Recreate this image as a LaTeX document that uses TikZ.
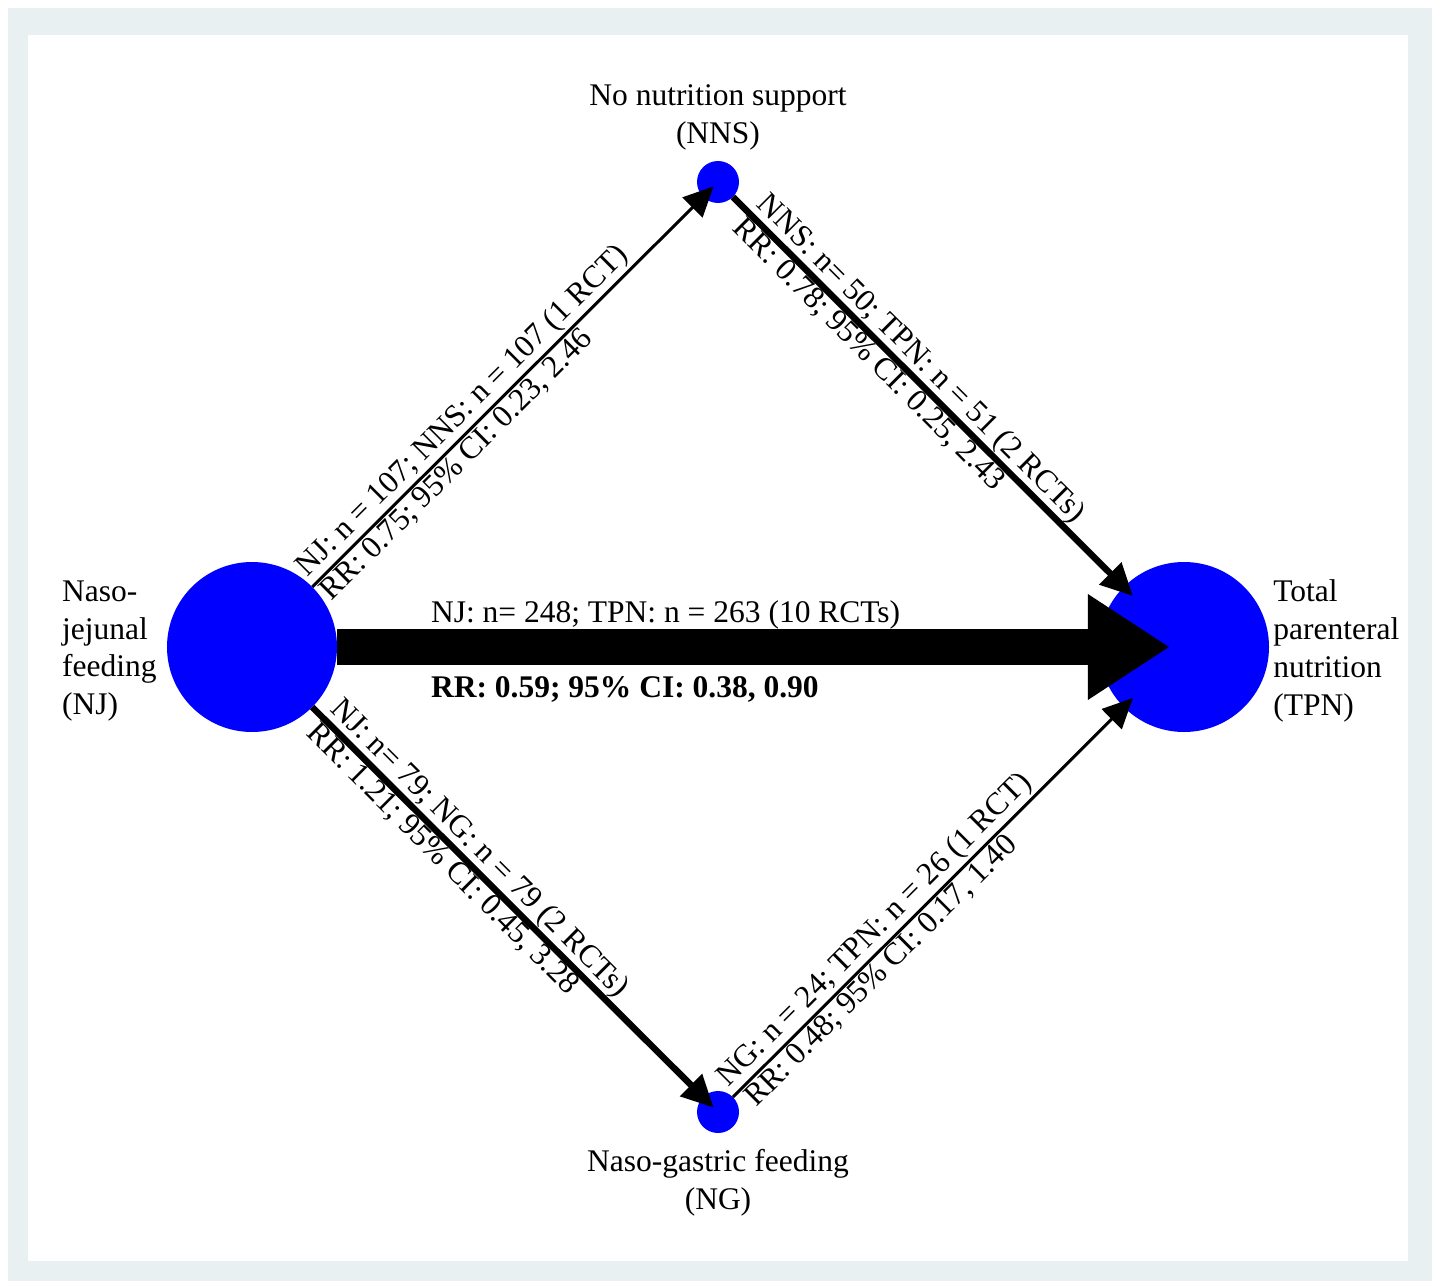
\documentclass[tikz,border=0pt]{standalone}
\usepackage{fontspec}
\setmainfont{Liberation Serif}
\usetikzlibrary{arrows.meta,positioning}
\definecolor{framecol}{RGB}{232,240,242}
\definecolor{trtblue}{RGB}{0,0,255}
\begin{document}
\begin{tikzpicture}[x=1pt,y=-1pt,
	trt/.style={circle,fill=trtblue,inner sep=0pt},
	trtname/.style={font=\fontsize{31.5}{37.9}\selectfont,inner sep=0pt},
	est/.style={font=\fontsize{31.5}{37.7}\selectfont,inner sep=3pt,sloped},
	rct1/.style={line width=3pt,-{Triangle[length=30pt,width=28pt]}},
	rct2/.style={line width=6.5pt,-{Triangle[length=32pt,width=30pt]}},
	rct10/.style={line width=36pt,-{Triangle[length=82pt,width=100pt]}}]
			\path[use as bounding box,fill=white] (0,0) rectangle (1432,1281);
			\fill[framecol] (8,8) rectangle (1432,1281);
			\fill[white] (28,35) rectangle (1408,1261);
			\node[trt,minimum size=170pt] (nj) at (252,647) {};
			\node[trt,minimum size=170pt] (tpn) at (1184,647) {};
			\node[trt,minimum size=42pt] (nns) at (718,182) {};
			\node[trt,minimum size=42pt] (ng) at (718,1112) {};
			\node[trtname,align=left,left=10pt of nj,yshift=-4pt] (njname) {Naso-\\jejunal\\feeding\\(NJ)};
			\node[trtname,align=left,right=4pt of tpn,yshift=-4pt] (tpnname) {Total\\parenteral\\nutrition\\(TPN)};
			\node[trtname,align=center,above=10pt of nns] (nnsname) {No nutrition support\\(NNS)};
			\node[trtname,align=center,below=16pt of ng] (ngname) {Naso-gastric feeding\\(NG)};
			\draw[rct1,shorten >=-15pt] (nj) -- (nns);
			\draw[rct2,shorten >=-13pt] (nns) -- (tpn);
			\draw[rct2,shorten >=-15pt] (nj) -- (ng);
			\draw[rct1,shorten >=-13pt] (ng) -- (tpn);
			\draw[rct10,shorten >=-71pt] (nj) -- (tpn);
			\path (nj) -- (nns)
				node[est,pos=0,anchor=south west] (njnnsn) {NJ: n = 107; NNS: n = 107 (1 RCT)}
				node[est,pos=0,anchor=north west] (njnnsrr) {RR: 0.75; 95\% CI: 0.23, 2.46};
			\path (nns) -- (tpn)
				node[est,pos=0.035,anchor=south west] (nnstpnn) {NNS: n= 50; TPN: n = 51 (2 RCTs)}
				node[est,pos=0.035,anchor=north west] (nnstpnrr) {RR: 0.78; 95\% CI: 0.25, 2.43};
			\path (nj) -- (ng)
				node[est,pos=0.02,anchor=south west] (njngn) {NJ: n= 79; NG: n = 79 (2 RCTs)}
				node[est,pos=0.02,anchor=north west] (njngrr) {RR: 1.21; 95\% CI: 0.45, 3.28};
			\path (ng) -- (tpn)
				node[est,pos=0,anchor=south west] (ngtpnn) {NG: n = 24; TPN: n = 26 (1 RCT)}
				node[est,pos=0.01,anchor=north west] (ngtpnrr) {RR: 0.48; 95\% CI: 0.17, 1.40};
			\path (nj) -- (tpn)
				node[est,sloped=false,pos=0.123,anchor=base west,yshift=25pt,inner sep=0pt] (njtpnn) {NJ: n= 248; TPN: n = 263 (10 RCTs)}
				node[est,sloped=false,pos=0.123,anchor=base west,yshift=-50pt,inner sep=0pt,font=\fontsize{31.5}{37.7}\selectfont\bfseries] (njtpnrr) {RR: 0.59; 95\% CI: 0.38, 0.90};
		\end{tikzpicture}
\end{document}
